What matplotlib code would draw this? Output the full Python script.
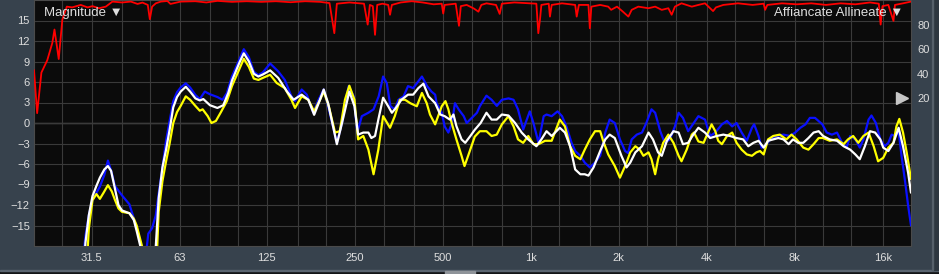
import matplotlib
matplotlib.use("Agg")
import matplotlib.pyplot as plt
import matplotlib.ticker as mticker
from matplotlib.patches import Rectangle

# ── data ───────────────────────────────────────────────────────────────────
BLUE_HZ = [29.1, 30.0, 30.8, 31.7, 33.6, 34.8, 35.8, 36.9, 37.8, 40.0,
           42.4, 44.9, 47.0, 48.1, 49.2, 50.7, 52.2, 53.4, 55.0, 56.6,
           58.2, 59.9, 61.7, 63.5, 66.1, 68.4, 71.3, 73.8, 76.8, 80.0,
           84.8, 88.3, 91.4, 95.1, 101, 104.4, 108.7, 113, 117.1, 121.3,
           128.5, 136.9, 144.2, 151.9, 156.3, 164.7, 171.5, 180.6, 188.1, 195.9,
           202.8, 217.3, 226.3, 238.4, 248.2, 254.0, 256.9, 264.5, 278.6, 290.1,
           302.1, 312.8, 321.9, 331.3, 342.9, 353.0, 367.6, 380.6, 396.3, 412.6,
           424.7, 442.2, 457.7, 471.2, 476.7, 496.4, 508.0, 522.9, 538.2, 550.8,
           566.9, 590.3, 604.1, 629.1, 655.0, 670, 706, 735, 766, 797, 840,
           874, 905, 943, 970, 993, 1022, 1064, 1108, 1133, 1180,
           1236, 1280, 1325, 1380, 1420, 1479, 1531, 1594, 1660, 1729,
           1800, 1863, 1940, 2020, 2104, 2153, 2216, 2307, 2403, 2487,
           2590, 2666, 2775, 2874, 2993, 3115, 3207, 3319, 3457, 3600,
           3748, 3948, 4111, 4281, 4509, 4695, 4889, 5062, 5270, 5487,
           5714, 5814, 6019, 6160, 6340, 6602, 6954, 7325, 7715, 8034,
           8365, 8711, 9018, 9390, 9948, 10299, 10724, 11167, 11627, 12038,
           12390, 12902, 13357, 13748, 14316, 14650, 15167, 15702, 16255, 16731,
           17173, 17625, 18142, 18565, 19109, 19555, 20000]
BLUE_DB = [-22, -16.5, -13.5, -11.3, -9.3, -7.6, -5.5, -7.3, -9.2, -10.6,
           -11.9, -15.3, -18.5, -20, -16.2, -15.4, -13.5, -10.3, -6.5, -2.6,
           0.3, 3.2, 4.5, 5.2, 5.8, 5.2, 4.1, 3.5, 4.6, 4.2,
           3.8, 3.4, 4.4, 6.8, 9.4, 10.8, 9.6, 7.5, 7.0, 7.4,
           8.7, 7.55, 6.3, 3.9, 3.2, 4.9, 4.15, 1.5, 3.4, 4.9,
           2.45, -2.9, 0.0, 5.4, 3.9, -0.7, -0.95, 1.0, 1.5, 2.0,
           3.9, 6.8, 5.85, 2.45, 2.0, 3.4, 3.9, 5.4, 5.1, 6.1,
           6.8, 5.4, 4.6, 4.15, 2.9, 1.5, -0.5, -1.4, 0.0, 2.9,
           2.0, 1.0, 0.0, 0.75, 1.5, 2.45, 4.0, 3.4, 2.5, 3.4, 3.6,
           3.4, 2.0, -0.95, 0.5, 1.7, 0.0, -2.9, 1.0, 1.24, 1.0,
           1.7, 1.0, -0.5, -2.9, -4.1, -4.8, -5.8, -6.5, -5.8, -4.8,
           -1.4, 0.5, 0.0, -2.4, -4.1, -4.4, -2.4, -1.7, -1.4, 0.0,
           2.0, 1.5, -1.2, -2.9, -2.4, -0.5, 1.5, 0.75, -1.2, -0.1,
           1.0, 0.5, -1.9, -1.4, -0.2, 0.3, -0.5, 0.0, -1.4, -2.6,
           -0.7, -0.2, -1.9, -3.6, -3.4, -2.4, -1.9, -1.7, -1.9, -1.4,
           -0.7, -0.2, 0.75, 0.75, -0.2, -1.4, -1.7, -1.4, -2.9, -3.6,
           -1.9, -2.4, -3.6, -2.4, 0.5, 1.1, 0.0, -2.4, -3.4, -2.9,
           -1.7, -1.9, -1.2, -4.8, -8.7, -12.1, -15.0]

WHITE_HZ = [29.6, 30.0, 30.8, 31.7, 32.7, 33.6, 34.8, 35.8, 36.7, 37.8,
            38.9, 40.0, 42.4, 43.9, 44.9, 46.5, 47.6, 51.3, 52.2, 53.4,
            55.0, 56.6, 58.2, 59.9, 61.7, 63.5, 66.1, 68.4, 71.3, 73.8,
            75.9, 80.0, 84.8, 88.8, 92.4, 95.1, 101, 104.4, 108.7, 113,
            117.1, 121.3, 128.5, 136.9, 146.7, 154.5, 164.7, 173.5, 181.7, 190.3,
            195.9, 202.8, 217.3, 226.3, 239.7, 249.6, 256.9, 267.6, 278.6, 285.1,
            293.5, 302.1, 312.8, 325.6, 335.1, 342.9, 361.3, 380.6, 396.3, 412.6,
            429.6, 447.3, 471.2, 490.7, 508.0, 529.0, 544.4, 557.2, 580.2, 597.2,
            621.8, 643.7, 674.2, 706.1, 735.2, 765.5, 797.1, 839.6, 884.5, 931.6,
            981.3, 1046, 1088, 1133, 1180, 1258, 1310, 1364, 1420, 1479,
            1531, 1576, 1641, 1729, 1800, 1863, 1940, 2044, 2128, 2191,
            2281, 2403, 2530, 2620, 2728, 2808, 2924, 3079, 3207, 3319,
            3457, 3600, 3748, 3948, 4111, 4330, 4561, 4805, 5062, 5331,
            5551, 5780, 6019, 6267, 6488, 6756, 7034, 7325, 7628, 7896,
            8221, 8561, 8915, 9283, 9665, 10006, 10540, 11167, 11763, 12390,
            12902, 13357, 13908, 14482, 15080, 15702, 16069, 16731, 17422, 18142,
            18781, 19555, 20000]
WHITE_DB = [-21, -17.5, -13.5, -10.7, -9.2, -8.0, -6.8, -6.3, -7.0, -9.5,
            -12.0, -12.8, -13.2, -14.2, -15.8, -18.5, -22, -22, -18, -11.0,
            -6.5, -3.9, -1.0, 2.3, 3.8, 4.6, 5.3, 4.6, 3.6, 3.3,
            3.5, 2.6, 2.2, 2.6, 4.4, 6.2, 8.9, 10.2, 9.0, 7.2,
            6.8, 7.1, 7.7, 6.6, 4.6, 3.4, 4.15, 3.4, 1.2, 3.4,
            4.9, 2.9, -3.1, 0.0, 4.6, 2.45, -1.7, -1.4, -1.4, -2.2,
            -1.9, 0.75, 3.7, 2.45, 1.5, 2.0, 3.4, 4.15, 4.15, 5.1,
            5.75, 3.9, 2.9, 1.24, 1.0, 0.5, 1.24, -0.46, -2.4, -2.9,
            -1.9, -1.0, 0.0, 1.5, 0.5, 0.5, 1.24, 1.1, 0.0, -1.4,
            -2.4, -3.4, -2.4, -1.2, -1.9, -0.7, -1.4, -3.4, -6.8, -7.5,
            -7.5, -7.7, -6.5, -4.1, -2.4, -1.7, -2.2, -4.8, -6.5, -5.8,
            -4.3, -3.4, -1.4, -2.4, -4.3, -4.8, -2.6, -1.2, -1.4, -3.1,
            -2.9, -1.7, -0.7, -1.4, -2.2, -1.9, -1.7, -1.9, -2.2, -2.4,
            -3.4, -2.9, -2.6, -3.6, -2.6, -2.4, -2.2, -2.4, -3.1, -2.4,
            -2.9, -2.9, -2.2, -1.4, -1.2, -1.9, -2.4, -2.6, -3.4, -3.9,
            -4.6, -5.3, -3.4, -1.2, -1.4, -2.4, -3.6, -4.1, -2.9, -0.7,
            -3.4, -7.3, -10.2]

YELLOW_HZ = [30.3, 30.8, 31.7, 32.7, 33.6, 34.6, 35.8, 36.9, 37.8, 38.9,
             40.0, 42.4, 43.9, 44.9, 46.8, 48.1, 51.9, 52.8, 53.4, 55.0,
             56.6, 58.2, 59.9, 61.7, 63.5, 66.1, 68.4, 71.3, 73.8, 75.5,
             78.6, 80.9, 83.8, 87.2, 91.4, 95.1, 101, 104.4, 108.7, 113,
             117.1, 121.3, 128.5, 135.3, 144.2, 151.9, 156.3, 164.7, 173.5, 181.7,
             190.3, 195.9, 203.9, 214.2, 222.4, 231.6, 239.7, 249.6, 256.9, 267.6,
             278.6, 290.1, 301.2, 312.8, 330.3, 342.9, 357.1, 371.9, 387.3, 407.9,
             424.7, 440.9, 452.5, 471.2, 496.4, 511.0, 522.9, 536.7, 557.2, 580.2,
             593.8, 611.1, 643.7, 670.3, 706.1, 735.2, 765.5, 797.1, 839.6, 874.3,
             905.1, 942.5, 981.3, 1022, 1064, 1120, 1180, 1258, 1310, 1364,
             1420, 1479, 1531, 1594, 1660, 1729, 1769, 1842, 1940, 2020,
             2104, 2191, 2281, 2362, 2430, 2530, 2590, 2666, 2728, 2840,
             2958, 3079, 3207, 3281, 3417, 3558, 3620, 3748, 3903, 4064,
             4159, 4281, 4380, 4509, 4695, 4889, 5062, 5270, 5487, 5714,
             5915, 6089, 6267, 6488, 6756, 7116, 7497, 7805, 8127, 8561,
             8915, 9283, 9665, 10006, 10540, 11167, 11763, 12177, 12680, 13204,
             13748, 14316, 14906, 15432, 16069, 16731, 17422, 17830, 18246, 18781,
             19331, 20000]
YELLOW_DB = [-21, -15.5, -11.3, -10.4, -11.1, -10.2, -9.1, -10.0, -11.2, -12.5,
             -13.0, -13.2, -14.0, -15.0, -18.0, -22, -22, -18, -13.0, -8.5,
             -5.6, -3.0, 0.0, 1.6, 2.5, 3.9, 3.4, 2.5, 1.8, 2.0,
             1.0, 0.0, 0.3, 1.6, 3.2, 5.4, 8.0, 9.4, 8.2, 6.5,
             6.3, 6.6, 7.06, 5.85, 5.1, 3.4, 2.2, 3.9, 3.4, 1.7,
             3.4, 4.6, 2.45, -1.4, -1.2, 3.4, 5.46, 3.4, -2.4, -1.9,
             -3.9, -7.5, -3.9, 1.0, -0.7, 1.0, 3.4, 3.4, 2.9, 2.45,
             4.4, 2.9, 1.24, -0.2, 2.45, 3.2, 2.0, 0.0, -2.4, -4.8,
             -6.3, -4.8, -2.0, -1.2, -1.2, -1.9, -1.7, -0.2, 1.0, -0.5,
             -2.4, -2.9, -1.9, -3.1, -3.1, -2.6, -2.6, 0.5, -0.5, -3.4,
             -4.8, -5.3, -3.9, -2.4, -1.2, -1.2, -2.6, -4.6, -6.3, -8.0,
             -6.3, -4.3, -3.4, -3.9, -4.8, -4.3, -5.3, -7.5, -5.3, -2.9,
             -1.7, -2.9, -4.8, -5.6, -3.9, -1.7, -1.4, -2.7, -2.9, -1.2,
             -0.2, -1.2, -2.6, -3.1, -1.9, -1.4, -2.9, -3.9, -4.6, -4.8,
             -4.3, -4.1, -4.6, -2.4, -1.9, -1.7, -2.4, -1.7, -2.4, -3.6,
             -3.9, -3.1, -2.2, -2.2, -2.6, -2.4, -3.1, -2.4, -1.9, -2.9,
             -1.9, -1.4, -3.4, -5.6, -5.1, -3.6, -2.9, -0.5, 0.6, -1.4,
             -4.3, -8.2]

# coherence trace, right-hand scale
RED_HZ = [20.0, 20.5, 21.2, 22.2, 23.1, 23.5, 24.3, 25.0, 25.9, 27.0,
          28.9, 30.5, 31.7, 33.4, 35.2, 37.1, 40, 42.9, 45.2, 47.0,
          49.0, 49.8, 50.7, 52.2, 54.3, 57.2, 58.6, 63.5, 71.3, 77.7,
          84.8, 95.1, 106.8, 119.9, 134.5, 151, 169.5, 190.3, 205.1, 213.0,
          217.3, 239.7, 269.1, 277.0, 281.8, 288.4, 293.5, 298.6, 311.0, 325.6,
          330.3, 335.1, 359.2, 391.8, 427.1, 465.8, 496.4, 502.2, 508, 554.0,
          568.6, 576.8, 604.1, 640, 662.6, 678.1, 706.1, 761.1, 783.4, 797.1,
          879.3, 1046, 1062, 1076, 1088, 1153, 1164, 1180, 1280, 1420,
          1437, 1462, 1576, 1594, 1613, 1729, 1842, 1885, 1974, 2068,
          2159, 2216, 2334, 2530, 2666, 2808, 2958, 3036, 3115, 3281,
          3558, 3748, 3948, 4207, 4305, 4561, 5120, 5747, 6267, 6340,
          6451, 7241, 8127, 9123, 10240, 11494, 12902, 14482, 15521, 15746,
          15977, 16731, 17422, 17625, 18781, 20000]
RED_PCT = [43, 8, 41, 51, 65, 76, 52, 84, 94.6, 94,
           96, 94, 95, 93.3, 94.6, 98.7, 98, 98.7, 96.8, 97.9,
           96, 84.4, 94.6, 97.3, 98.7, 99.2, 96.8, 98.7, 99, 98,
           99.3, 98.5, 99, 98.5, 99, 98.2, 99, 98.5, 97.5, 73,
           97, 98, 97, 80, 96, 95, 71.7, 96, 97, 96,
           88, 96, 98, 99, 98, 96.5, 97, 89, 96, 97,
           79, 95, 96, 93, 90.5, 96, 97.3, 96, 88.7, 97,
           98, 97, 73, 84, 96, 97, 86.5, 96, 97.3, 96,
           86.5, 96, 96, 77, 94.6, 96, 94.6, 92, 94.6, 90.5,
           86.5, 92, 94.6, 93.3, 94.6, 92, 93.3, 88, 94.6, 97.3,
           94.6, 96, 97.3, 91, 94, 96, 97.3, 96, 97, 92,
           96, 97.3, 96.5, 97.3, 96, 97.3, 96.5, 98, 97, 80,
           95, 96, 83, 96, 97.3, 98.7]

THIRD_OCT = [25, 31.5, 40, 50, 63, 80, 100, 125, 160, 200, 250, 315, 400, 500,
             630, 800, 1000, 1250, 1600, 2000, 2500, 3150, 4000, 5000, 6300,
             8000, 10000, 12500, 16000]
X_LABELS = {31.5: "31.5", 63: "63", 125: "125", 250: "250", 500: "500",
            1000: "1k", 2000: "2k", 4000: "4k", 8000: "8k", 16000: "16k"}
DB_TICKS = [-15, -12, -9, -6, -3, 0, 3, 6, 9, 12, 15]
COH_TICKS = [20, 40, 60, 80]

# ── style ──────────────────────────────────────────────────────────────────
PANEL = "#37424d"
PLOT_BG = "#0b0b0b"
GRID = "#3a3a3a"
TXT = "#dedede"

plt.rcParams["font.family"] = ["Liberation Sans", "DejaVu Sans"]
plt.rcParams["lines.solid_joinstyle"] = "round"
plt.rcParams["lines.solid_capstyle"] = "round"

W, H = 939, 274
fig = plt.figure(figsize=(W / 100, H / 100), dpi=100, facecolor=PANEL)
ax = fig.add_axes([34 / W, 28 / H, 877 / W, 246 / H])
ax.set_facecolor(PLOT_BG)
ax.set_xscale("log")
ax.set_xlim(20, 20000)
ax.set_ylim(-18, 18)

ax.set_xticks(THIRD_OCT)
ax.set_xticklabels([X_LABELS.get(f, "") for f in THIRD_OCT])
ax.xaxis.set_minor_locator(mticker.NullLocator())
ax.set_yticks(DB_TICKS)
ax.tick_params(length=0, colors=TXT, labelsize=8)
ax.tick_params(axis="x", pad=5)
ax.tick_params(axis="y", pad=3)
ax.grid(True, color=GRID, lw=0.8)
ax.axhline(0, color="#8a8a8a", lw=0.9, zorder=1.5)
for s in ax.spines.values():
    s.set_color("#4a4a4a")
    s.set_linewidth(0.8)

ax.plot(BLUE_HZ, BLUE_DB, color="#0a10ff", lw=1.6, zorder=3)
ax.plot(YELLOW_HZ, YELLOW_DB, color="#ffff00", lw=1.6, zorder=4)
ax.plot(WHITE_HZ, WHITE_DB, color="#ffffff", lw=1.6, zorder=5)

# coherence on the right scale
ax2 = ax.twinx()
ax2.set_ylim(-100, 100)
ax2.set_yticks(COH_TICKS)
ax2.tick_params(length=0, colors=TXT, labelsize=8, pad=4.5)
for s in ax2.spines.values():
    s.set_visible(False)
ax2.plot(RED_HZ, RED_PCT, color="#ff0000", lw=1.3)
ax2.plot([0.9897], [20], marker=">", ms=9, color="#c6c6c6", ls="none",
         transform=ax2.get_yaxis_transform(), clip_on=False)

# overlay labels
fig.text(44 / W, 1 - 13 / H, "Magnitude ▼", color=TXT, fontsize=9.5,
         ha="left", va="center")
fig.text(903 / W, 1 - 13 / H, "Affiancate Allineate ▼", color=TXT,
         fontsize=9.5, ha="right", va="center")

# window chrome: bottom scroll strip and right edge
fig.patches.append(Rectangle((0, 0), 1, 3.5 / H, transform=fig.transFigure,
                             color="#121416", zorder=0))
fig.patches.append(Rectangle((0, 3.5 / H), 1, 1 / H, transform=fig.transFigure,
                             color="#5a6470", zorder=0))
fig.patches.append(Rectangle((445 / W, 0), 30 / W, 3 / H, transform=fig.transFigure,
                             color="#8e9399", zorder=0))
fig.patches.append(Rectangle((932 / W, 4.5 / H), 7 / W, 1, transform=fig.transFigure,
                             color="#2e3740", zorder=0))
fig.patches.append(Rectangle((932 / W, 4.5 / H), 1 / W, 1, transform=fig.transFigure,
                             color="#56606a", zorder=0))

fig.savefig("out.png", dpi=100, facecolor=PANEL)
